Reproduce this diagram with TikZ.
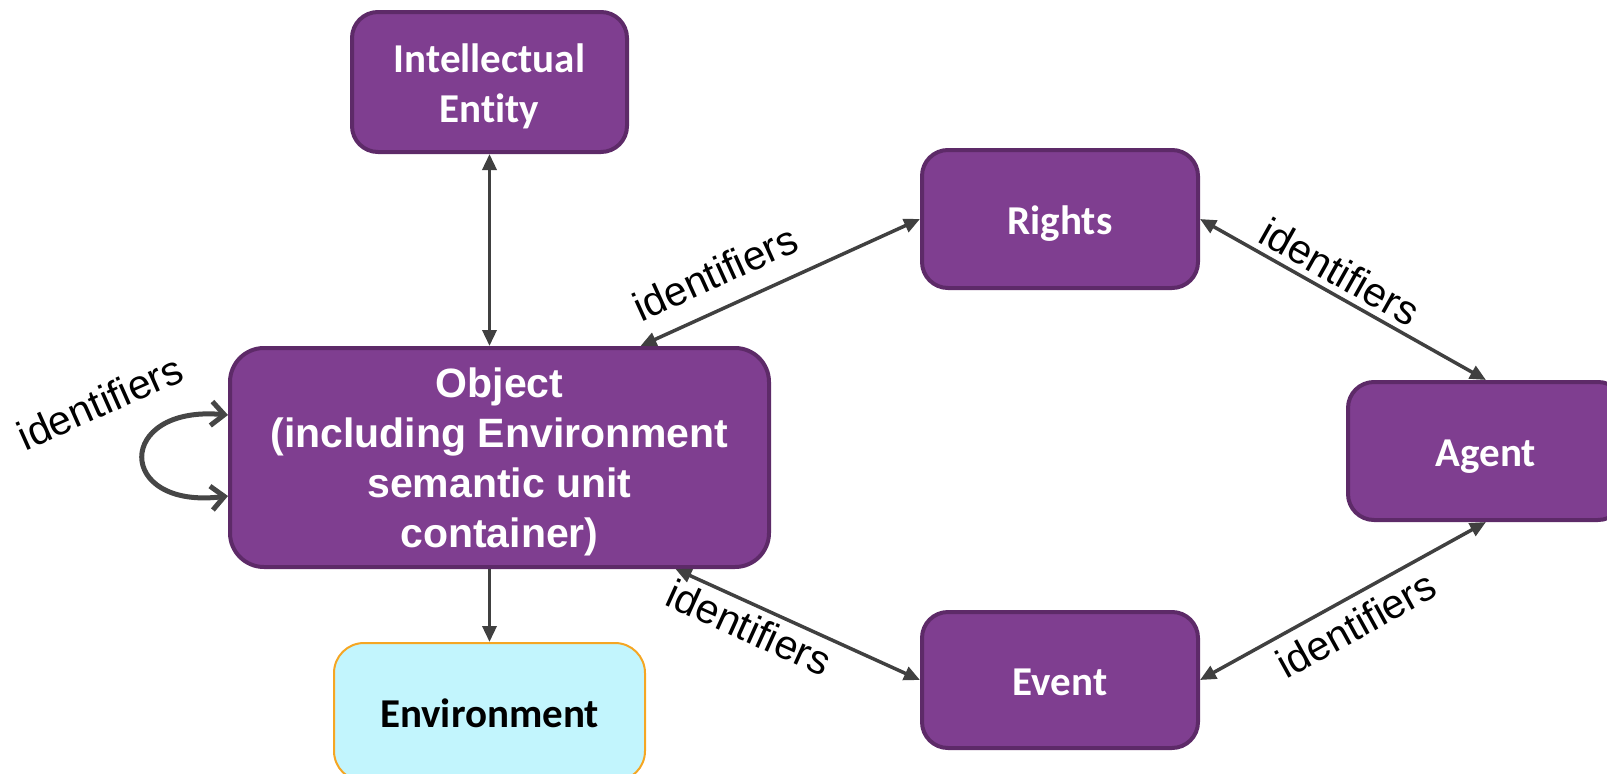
\documentclass[tikz,border=0pt]{standalone}
\usepackage{fontspec}
\usetikzlibrary{arrows.meta}
\newfontfamily\carlito{Carlito}[Ligatures=NoCommon]
\newfontfamily\arialf{Liberation Sans}[Ligatures=NoCommon]
\definecolor{boxpurple}{RGB}{127,62,144}
\definecolor{boxborder}{RGB}{93,42,104}
\definecolor{linegray}{RGB}{64,64,64}
\definecolor{loopgray}{RGB}{70,70,70}
\definecolor{envfill}{RGB}{194,245,253}
\definecolor{envborder}{RGB}{245,166,35}
\newcommand\topstrut{\rule{0pt}{40pt}}
\newcommand\botstrut{\rule[-10pt]{0pt}{10pt}}
\begin{document}
\begin{tikzpicture}[x=1pt,y=-1pt,
  >={Triangle[length=16pt,width=14pt]},
  pbox/.style={draw=boxborder, line width=4pt, fill=boxpurple, rounded corners=26pt,
    text=white, font=\carlito\bfseries\fontsize{41}{50}\selectfont, align=center, inner sep=0pt},
  single/.style={text height=40pt, text depth=10pt},
  objbox/.style={pbox, rounded corners=34pt, font=\arialf\bfseries\fontsize{41}{50}\selectfont},
  envbox/.style={draw=envborder, line width=2pt, fill=envfill, rounded corners=30pt,
    text=black, font=\carlito\bfseries\fontsize{41}{50}\selectfont, inner sep=0pt,
    text height=40pt, text depth=10pt},
  conn/.style={line width=3.5pt, draw=linegray},
  lbl/.style={font=\arialf\fontsize{41}{48}\selectfont, text=black, inner sep=0pt},
  selfloop/.style={line width=5pt, draw=loopgray,
    {Straight Barb[length=13pt,width=24pt]}-{Straight Barb[length=13pt,width=24pt]}}
]
\useasboundingbox (0,0) rectangle (1607,774);
\clip (0,0) rectangle (1607,774);

\node[pbox, minimum width=275pt, minimum height=140pt] (IE) at (489.5,82)
  {\topstrut Intellectual\\Entity\botstrut};
\node[pbox, single, minimum width=276pt, minimum height=138pt] (Rights) at (1060,219) {Rights};
\node[pbox, single, minimum width=276pt, minimum height=138pt] (Agent) at (1486,451) {Agent};
\node[pbox, single, minimum width=276pt, minimum height=136pt] (Event) at (1060,680) {Event};
\node[objbox, minimum width=539pt, minimum height=219pt] (Object) at (499.5,457.5)
  {\topstrut Object\\(including Environment\\semantic unit\\container)\botstrut};
\node[envbox, minimum width=311pt, minimum height=138pt] (Env) at (489.5,712) {Environment};

\draw[conn, <->] (IE.south) -- (IE.south |- Object.north);
\draw[conn, ->] (Object.south -| Env.north) -- (Env.north);

\draw[conn, <->] ([xshift=141pt]Object.north) -- (Rights.west)
  node[lbl, pos=0.32, sloped, above=19pt] (l1) {identifiers};
\draw[conn, <->] (Rights.east) -- (Agent.north)
  node[lbl, pos=0.45, sloped, above=6pt] (l2) {identifiers};
\draw[conn, <->] ([xshift=176pt]Object.south) -- (Event.west)
  node[lbl, pos=0.34, sloped, below=6pt] (l3) {identifiers};
\draw[conn, <->] (Event.east) -- (Agent.south)
  node[lbl, pos=0.5, sloped, below=10pt] (l4) {identifiers};

\coordinate (la) at ([yshift=42.5pt]Object.west);
\coordinate (lb) at ([yshift=-38.5pt]Object.west);
\draw[selfloop] (la) .. controls (115,405) and (115,510) .. (lb);
\node[lbl, rotate=24] (selflbl) at (100,402) {identifiers};
\end{tikzpicture}
\end{document}
